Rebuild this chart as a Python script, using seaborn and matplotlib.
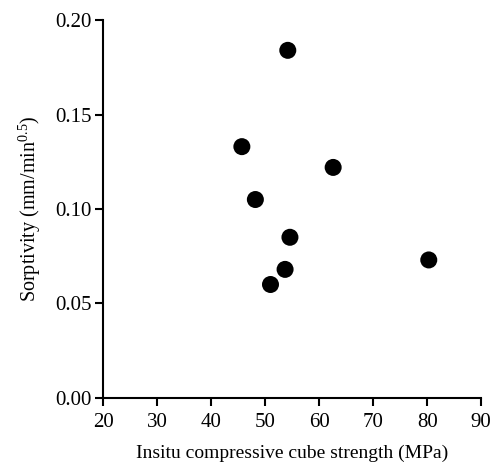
import numpy as np
import pandas as pd
import matplotlib
matplotlib.use("Agg")
import matplotlib.pyplot as plt
import seaborn as sns

# %%
strength = [54.2, 45.7, 62.6, 48.2, 54.6, 53.7, 51.0, 80.3]
sorptivity = [0.184, 0.133, 0.122, 0.105, 0.085, 0.068, 0.060, 0.073]
x_ticks = [20, 30, 40, 50, 60, 70, 80, 90]
y_ticks = [0.00, 0.05, 0.10, 0.15, 0.20]

df = pd.DataFrame({'strength': strength, 'sorptivity': sorptivity})

# %%
sns.set_style("ticks")
plt.rcParams['font.family'] = ['Liberation Serif', 'DejaVu Serif']
plt.rcParams['mathtext.fontset'] = 'custom'
plt.rcParams['mathtext.rm'] = 'Liberation Serif'
plt.rcParams['mathtext.it'] = 'Liberation Serif:italic'
plt.rcParams['text.color'] = 'black'
plt.rcParams['axes.labelcolor'] = 'black'

fig, ax = plt.subplots(figsize=(4.93, 4.68), dpi=100)
plt.subplots_adjust(left=0.209, right=0.976, bottom=0.150, top=0.957)

sns.scatterplot(data=df, x='strength', y='sorptivity', ax=ax,
                color='black', s=150, edgecolor='none', clip_on=False)

ax.set_xlim(20, 90)
ax.set_ylim(0, 0.20)
ax.set_xticks(x_ticks)
ax.set_yticks(y_ticks)
ax.set_yticklabels([f'{v:.2f}' for v in y_ticks])
ax.tick_params(axis='both', labelsize=15, length=6, width=1.5, direction='out',
               colors='black', labelcolor='black')
ax.tick_params(axis='x', pad=5)
ax.tick_params(axis='y', pad=2)
for side in ['top', 'right']:
    ax.spines[side].set_visible(False)
for side in ['left', 'bottom']:
    ax.spines[side].set_linewidth(1.5)
    ax.spines[side].set_color('black')

ax.set_xlabel('Insitu compressive cube strength (MPa)', fontsize=14, labelpad=9)
ax.set_ylabel('Sorptivity (mm/min$^{0.5}$)', fontsize=14.5, labelpad=9)

plt.savefig('out.png', dpi=100)
plt.close()
